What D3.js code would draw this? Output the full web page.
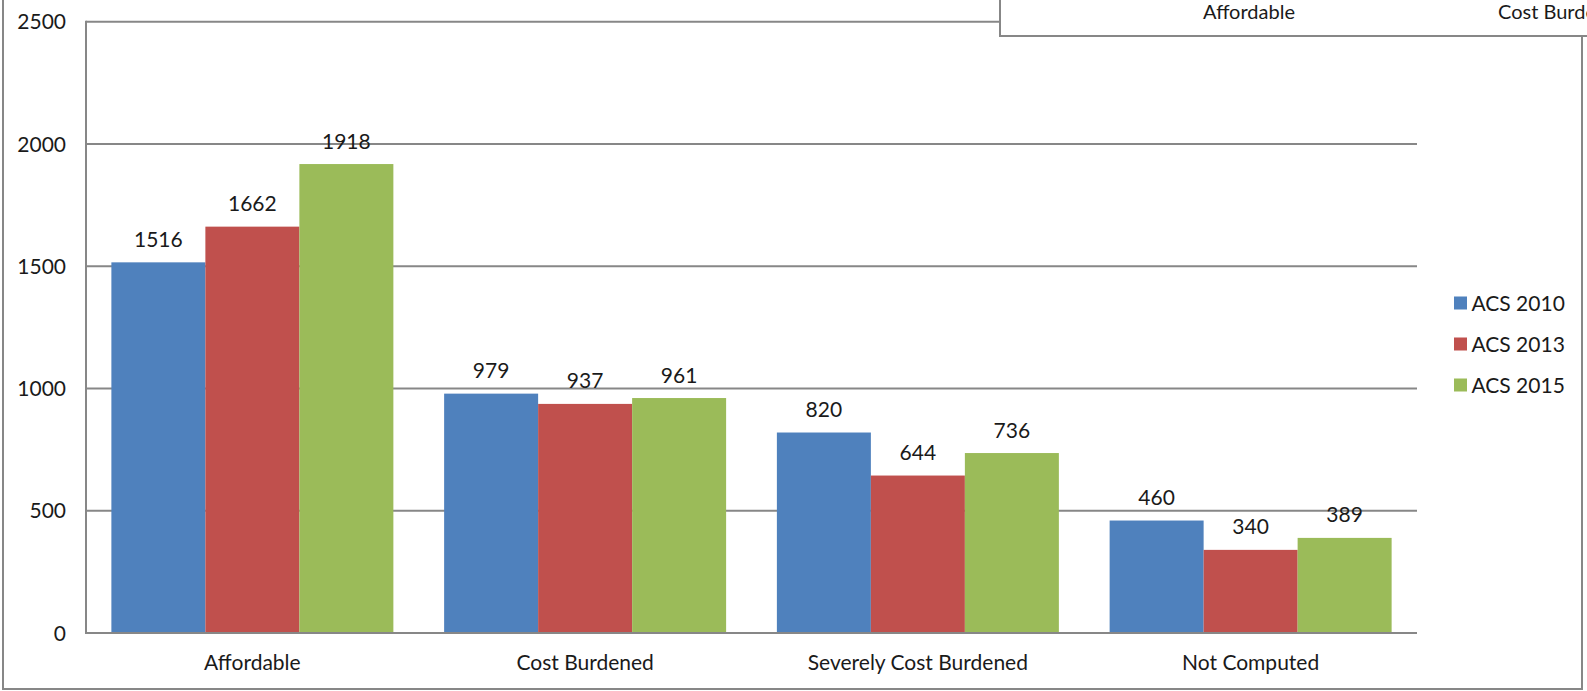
<!DOCTYPE html>
<html>
<head>
<meta charset="utf-8">
<script src="https://cdn.jsdelivr.net/npm/d3@7"></script>
<style>
  html, body { margin: 0; padding: 0; background: #fff; }
  svg { display: block; }
  text { font-family: Lato, "Open Sans", sans-serif; fill: #1a1a1a; }
</style>
</head>
<body>
<svg id="chart" width="1587" height="691"></svg>
<script>
// Housing cost burden by ACS release
const categories = ["Affordable", "Cost Burdened", "Severely Cost Burdened", "Not Computed"];
const seriesNames = ["ACS 2010", "ACS 2013", "ACS 2015"];
const acs2010 = [1516, 979, 820, 460];
const acs2013 = [1662, 937, 644, 340];
const acs2015 = [1918, 961, 736, 389];
const yTicks = [0, 500, 1000, 1500, 2000, 2500];
const headerLabels = ["Affordable", "Cost Burdened"];

const colors = ["#4F81BD", "#C0504D", "#9BBB59"];
const seriesValues = [acs2010, acs2013, acs2015];

const plot = { left: 86, right: 1417, top: 21.75, bottom: 633 };
const gridColor = "#878787";
const fontSize = 21;

const svg = d3.select("#chart");

// outer chart frame (top edge sits above the visible area)
svg.append("rect")
  .attr("x", 3).attr("y", -10)
  .attr("width", 1579).attr("height", 699)
  .attr("fill", "#fff")
  .attr("stroke", gridColor).attr("stroke-width", 2);

const x0 = d3.scaleBand().domain(categories).range([plot.left, plot.right]).padding(0);
const x1 = d3.scaleBand().domain(seriesNames).range([0, x0.bandwidth()])
  .paddingInner(0).paddingOuter(0.27);
const y = d3.scaleLinear().domain([0, 2500]).range([plot.bottom, plot.top]);

// horizontal gridlines
svg.append("g").selectAll("line").data(yTicks).join("line")
  .attr("x1", plot.left).attr("x2", plot.right)
  .attr("y1", d => y(d)).attr("y2", d => y(d))
  .attr("stroke", gridColor).attr("stroke-width", 2);

// value axis line
svg.append("line")
  .attr("x1", plot.left).attr("x2", plot.left)
  .attr("y1", y(2500) - 1).attr("y2", y(0) + 1)
  .attr("stroke", gridColor).attr("stroke-width", 2);

// value axis labels
svg.append("g").selectAll("text").data(yTicks).join("text")
  .attr("x", 66).attr("y", d => y(d) + 7.5)
  .attr("text-anchor", "end")
  .style("font-size", fontSize + "px")
  .text(d => d);

// bars
const rows = categories.map((c, i) => ({
  cat: c,
  vals: seriesNames.map((s, j) => ({ series: s, value: seriesValues[j][i], color: colors[j] }))
}));

const groups = svg.append("g").selectAll("g").data(rows).join("g")
  .attr("transform", d => `translate(${x0(d.cat)},0)`);

groups.selectAll("rect").data(d => d.vals).join("rect")
  .attr("x", d => x1(d.series))
  .attr("y", d => y(d.value))
  .attr("width", x1.bandwidth())
  .attr("height", d => y(0) - y(d.value))
  .attr("fill", d => d.color);

// redraw the baseline over the bars
svg.append("line")
  .attr("x1", plot.left).attr("x2", plot.right)
  .attr("y1", y(0)).attr("y2", y(0))
  .attr("stroke", gridColor).attr("stroke-width", 2);

// data labels
groups.selectAll("text").data(d => d.vals).join("text")
  .attr("x", d => x1(d.series) + x1.bandwidth() / 2)
  .attr("y", d => y(d.value) - 15.5)
  .attr("text-anchor", "middle")
  .style("font-size", fontSize + "px")
  .text(d => d.value);

// category labels
svg.append("g").selectAll("text").data(categories).join("text")
  .attr("x", d => x0(d) + x0.bandwidth() / 2)
  .attr("y", 670)
  .attr("text-anchor", "middle")
  .style("font-size", fontSize + "px")
  .text(d => d);

// legend
const legend = svg.append("g").selectAll("g").data(seriesNames).join("g")
  .attr("transform", (d, i) => `translate(1454,${303 + i * 41})`);
legend.append("rect")
  .attr("x", 0).attr("y", -6.5).attr("width", 13).attr("height", 13)
  .attr("fill", (d, i) => colors[i]);
legend.append("text")
  .attr("x", 17.5).attr("y", 7.5)
  .style("font-size", fontSize + "px")
  .text(d => d);

// overlapping header panel along the top edge
svg.append("rect")
  .attr("x", 1000).attr("y", -10)
  .attr("width", 620).attr("height", 46)
  .attr("fill", "#fff")
  .attr("stroke", gridColor).attr("stroke-width", 2);
svg.append("text")
  .attr("x", 1249).attr("y", 19)
  .attr("text-anchor", "middle")
  .style("font-size", "20px")
  .text(headerLabels[0]);
svg.append("text")
  .attr("x", 1498).attr("y", 19)
  .attr("text-anchor", "start")
  .style("font-size", "20px")
  .text(headerLabels[1]);
</script>
</body>
</html>
